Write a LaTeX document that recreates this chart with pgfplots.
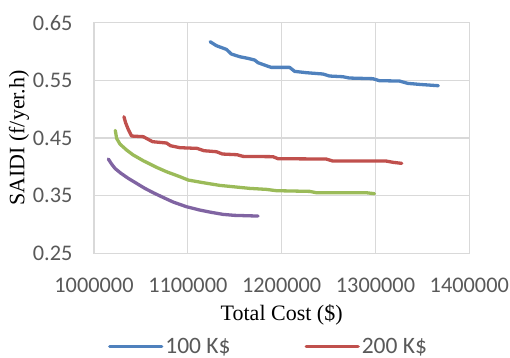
\documentclass[border=0pt]{standalone}
\usepackage{pgfplots}
\pgfplotsset{compat=1.18}
\usepackage{fontspec}
\setmainfont{Liberation Serif}
\newfontfamily\carlito{Carlito}
\definecolor{sblue}{HTML}{4F81BD}
\definecolor{sred}{HTML}{C0504D}
\definecolor{sgreen}{HTML}{9BBB59}
\definecolor{spurple}{HTML}{8064A2}
\definecolor{gridgray}{HTML}{D9D9D9}
\definecolor{ticktext}{HTML}{595959}
\begin{document}
\begin{tikzpicture}
\begin{axis}[
  name=ax,
  scale only axis,
  width=375.3bp, height=230.6bp,
  xmin=1000000, xmax=1400000,
  ymin=0.25, ymax=0.65,
  xtick={1000000,1100000,1200000,1300000,1400000},
  xticklabels={1000000,1100000,1200000,1300000,1400000},
  ytick={0.25,0.35,0.45,0.55,0.65},
  yticklabels={0.25,0.35,0.45,0.55,0.65},
  scaled x ticks=false,
  /pgf/number format/assume math mode=true,
  major tick length=0pt,
  grid=major,
  major grid style={gridgray, line width=1.1bp},
  axis line style={gridgray, line width=1.1bp},
  tick label style={font=\carlito\fontsize{22.3bp}{26bp}\selectfont, text=ticktext},
  yticklabel style={xshift=-18bp},
  xticklabel style={yshift=-21bp},
  xlabel={Total Cost (\$)},
  ylabel={SAIDI (f/yer.h)},
  label style={font=\fontsize{22bp}{26bp}\selectfont, text=black},
  x label style={at={(axis description cs:0.5,-0.268)}, anchor=center},
  y label style={at={(axis description cs:-0.1998,0.5)}, anchor=center},
  legend columns=2,
  legend style={draw=none, fill=none, at={(axis description cs:0.465,-0.405)}, anchor=center,
    font=\carlito\fontsize{23.5bp}{27bp}\selectfont, text=ticktext,
    /tikz/every even column/.append style={column sep=72bp}},
  legend image code/.code={\draw[#1, line width=3.3bp] (0bp,0bp) -- (52bp,0bp);},
  every axis plot/.append style={line width=3.3bp, line join=round, line cap=round},
]
\addplot[sblue] coordinates {
(1123760,0.6170) (1130490,0.6101) (1141130,0.6037) (1146450,0.5956) (1155310,0.5910)
(1164180,0.5881) (1171270,0.5852) (1174820,0.5806) (1183680,0.5754) (1189000,0.5725)
(1208510,0.5725) (1213830,0.5656) (1226240,0.5633) (1243970,0.5610) (1251060,0.5575)
(1265240,0.5563) (1272330,0.5540) (1297150,0.5529) (1304250,0.5494) (1325520,0.5488)
(1334390,0.5448) (1346800,0.5430) (1367010,0.5407)
};
\addlegendentry{100 K\$}
\addplot[sred] coordinates {
(1031910,0.4869) (1033690,0.4765) (1036520,0.4650) (1040070,0.4534) (1052480,0.4523)
(1062410,0.4436) (1077300,0.4413) (1081560,0.4366) (1091490,0.4332) (1109930,0.4320)
(1117020,0.4280) (1130490,0.4262) (1136880,0.4222) (1152480,0.4210) (1158860,0.4181)
(1190780,0.4176) (1196100,0.4141) (1247510,0.4135) (1254600,0.4100) (1311340,0.4100)
(1319140,0.4077) (1328010,0.4060)
};
\addlegendentry{200 K\$}
\addplot[sgreen, forget plot] coordinates {
(1022690,0.4632) (1024110,0.4494) (1027660,0.4395) (1034750,0.4291) (1041840,0.4205)
(1052480,0.4106) (1066660,0.3991) (1077300,0.3915) (1091490,0.3829) (1100350,0.3771)
(1116310,0.3725) (1134040,0.3678) (1148230,0.3655) (1165950,0.3626) (1183680,0.3609)
(1194320,0.3586) (1212050,0.3580) (1229780,0.3574) (1236870,0.3551) (1254600,0.3551)
(1290060,0.3551) (1298930,0.3534)
};
\addplot[spurple, forget plot] coordinates {
(1015250,0.4135) (1018790,0.4048) (1022340,0.3973) (1028370,0.3892) (1036520,0.3800)
(1045390,0.3713) (1054250,0.3626) (1063120,0.3551) (1071980,0.3482) (1084390,0.3389)
(1098580,0.3308) (1112760,0.3250) (1125170,0.3210) (1137580,0.3175) (1149990,0.3158)
(1162400,0.3152) (1174820,0.3146)
};
\end{axis}
\pgfresetboundingbox
\path[use as bounding box] ([shift={(-94bp,-104.7bp)}]ax.south west) rectangle ([shift={(416bp,253.3bp)}]ax.south west);
\end{tikzpicture}
\end{document}
